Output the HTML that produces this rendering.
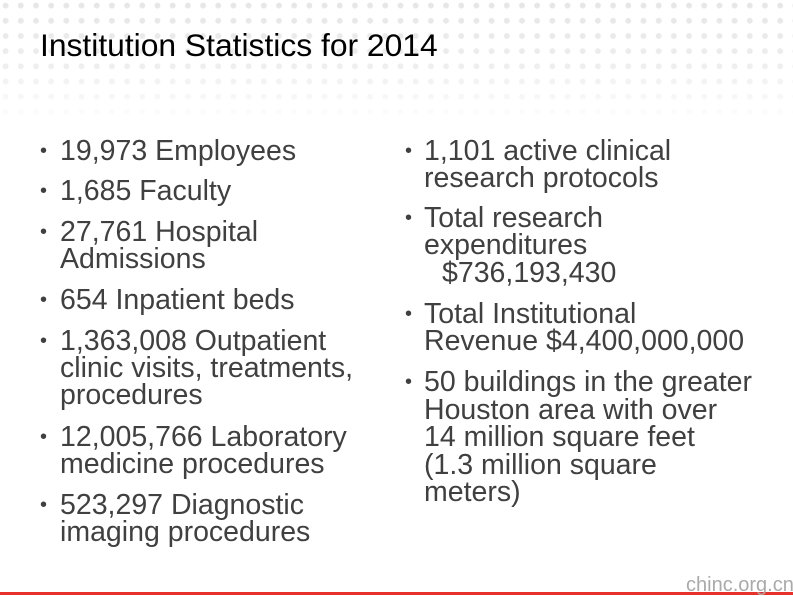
<!DOCTYPE html>
<html><head><meta charset="utf-8"><style>
html,body{margin:0;padding:0}
body{width:793px;height:595px;position:relative;overflow:hidden;background:#fff;font-family:"Liberation Sans",Arial,sans-serif}
.dots{position:absolute;left:0;top:0;width:793px;height:125px;background-image:radial-gradient(circle,#e6e6e6 2.6px,transparent 3.2px);background-size:15.2px 15.2px;background-position:-2px -2px}
.fade{position:absolute;left:0;top:0;width:793px;height:125px;background:linear-gradient(to bottom,rgba(255,255,255,0) 0%,rgba(255,255,255,0.3) 50%,rgba(255,255,255,1) 100%)}
.title{position:absolute;left:40px;top:27px;font-size:31.8px;color:#000;line-height:36px}
.l{position:absolute;font-size:28.5px;color:#404040;line-height:28px;white-space:nowrap}
.b{position:absolute;font-size:20px;color:#404040;line-height:28px}
.red{position:absolute;left:0;top:592px;width:793px;height:3px;background:#e8312a}
.wm{position:absolute;left:686px;top:574px;font-size:20px;color:#aaa;line-height:22px}
</style></head><body>
<div class="dots"></div><div class="fade"></div>
<div class="title">Institution Statistics for 2014</div>

<div class="b" style="left:40px;top:137px">•</div><div class="l" style="left:60px;top:137px">19,973 Employees</div>
<div class="b" style="left:40px;top:177px">•</div><div class="l" style="left:60px;top:177px">1,685 Faculty</div>
<div class="b" style="left:40px;top:218px">•</div><div class="l" style="left:60px;top:218px">27,761 Hospital</div>
<div class="l" style="left:60px;top:245px">Admissions</div>
<div class="b" style="left:40px;top:286px">•</div><div class="l" style="left:60px;top:286px">654 Inpatient beds</div>
<div class="b" style="left:40px;top:327px">•</div><div class="l" style="left:60px;top:327px">1,363,008 Outpatient</div>
<div class="l" style="left:60px;top:354px">clinic visits, treatments,</div>
<div class="l" style="left:60px;top:381px">procedures</div>
<div class="b" style="left:40px;top:423px">•</div><div class="l" style="left:60px;top:423px">12,005,766 Laboratory</div>
<div class="l" style="left:60px;top:450px">medicine procedures</div>
<div class="b" style="left:40px;top:491px">•</div><div class="l" style="left:60px;top:491px">523,297 Diagnostic</div>
<div class="l" style="left:60px;top:518px">imaging procedures</div>

<div class="b" style="left:405px;top:137px">•</div><div class="l" style="left:424px;top:137px">1,101 active clinical</div>
<div class="l" style="left:424px;top:164px">research protocols</div>
<div class="b" style="left:405px;top:204px">•</div><div class="l" style="left:424px;top:204px">Total research</div>
<div class="l" style="left:424px;top:231px">expenditures</div>
<div class="l" style="left:442px;top:259px">$736,193,430</div>
<div class="b" style="left:405px;top:300px">•</div><div class="l" style="left:424px;top:300px">Total Institutional</div>
<div class="l" style="left:424px;top:327px">Revenue $4,400,000,000</div>
<div class="b" style="left:405px;top:368px">•</div><div class="l" style="left:424px;top:368px">50 buildings in the greater</div>
<div class="l" style="left:424px;top:396px">Houston area with over</div>
<div class="l" style="left:424px;top:423px">14 million square feet</div>
<div class="l" style="left:424px;top:451px">(1.3 million square</div>
<div class="l" style="left:424px;top:478px">meters)</div>

<div class="red"></div>
<div class="wm">chinc.org.cn</div>
</body></html>
